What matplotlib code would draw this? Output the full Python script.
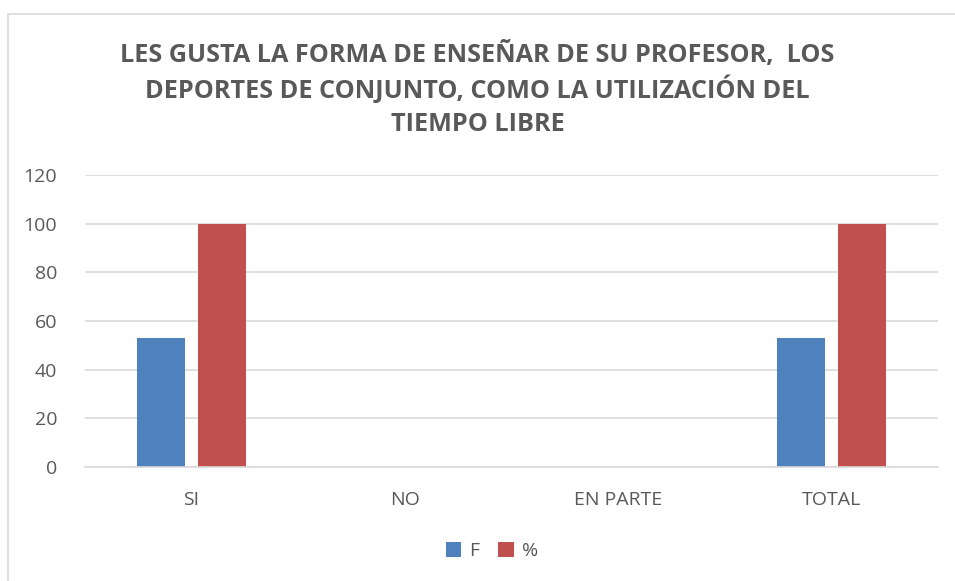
import numpy as np
import matplotlib.pyplot as plt
from matplotlib.patches import Rectangle

# Datos del gráfico
categorias = ['SI', 'NO', 'EN PARTE', 'TOTAL']
frecuencia = [53, 0, 0, 53]
porcentaje = [100, 0, 0, 100]
titulo = ['LES GUSTA LA FORMA DE ENSEÑAR DE SU PROFESOR,  LOS',
          'DEPORTES DE CONJUNTO, COMO LA UTILIZACIÓN DEL',
          'TIEMPO LIBRE']

plt.rcParams['font.family'] = ['Open Sans', 'DejaVu Sans']

fig = plt.figure(figsize=(9.55, 5.81), dpi=100)
ax = fig.add_axes([0.089, 0.196, 0.893, 0.503])

x = np.arange(len(categorias))
ancho = 0.225
ax.bar(x - 0.143, frecuencia, ancho, color='#4f81bd', label='F')
ax.bar(x + 0.143, porcentaje, ancho, color='#c0504d', label='%')

ax.set_xlim(-0.5, 3.5)
ax.set_ylim(0, 120)
ax.set_yticks(range(0, 121, 20))
ax.set_xticks(x)
ax.set_xticklabels(categorias)
ax.yaxis.grid(True, color='#d9d9d9', linewidth=1.2)
ax.set_axisbelow(True)
for s in ['top', 'right', 'left']:
    ax.spines[s].set_visible(False)
ax.spines['bottom'].set_color('#d9d9d9')
ax.spines['bottom'].set_linewidth(1.2)
ax.tick_params(length=0, labelsize=14, colors='#595959')
ax.tick_params(axis='y', pad=20)
ax.tick_params(axis='x', pad=17)

# Título, una línea a la vez
for i, linea in enumerate(titulo):
    fig.text(0.5, 1 - (55 + 35 * i) / 581, linea, ha='center', va='center',
             fontsize=18.2, fontweight='bold', color='#595959')

fig.legend(loc='center', bbox_to_anchor=(0.515, 0.052), ncol=2, frameon=False,
           fontsize=14, handlelength=0.8, handleheight=0.8, handletextpad=0.4,
           columnspacing=1.0, labelcolor='#595959')

# Borde del área del gráfico
fig.patches.append(Rectangle((8 / 955, -0.01), 1.0, 1 - 14 / 581 + 0.01,
                             transform=fig.transFigure, fill=False,
                             edgecolor='#d9d9d9', linewidth=1.2))

fig.savefig('out.png', dpi=100)
